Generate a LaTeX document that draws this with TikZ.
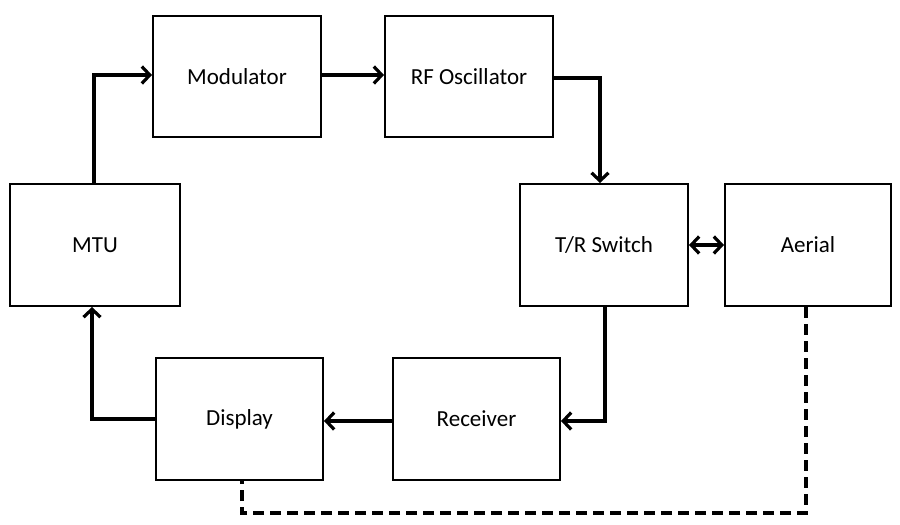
\documentclass[tikz,border=0pt]{standalone}
\usepackage{fontspec}
\setmainfont{Carlito}
\usetikzlibrary{arrows.meta}
\begin{document}
\begin{tikzpicture}[x=1pt,y=-1pt,
  conn/.style={line width=3.2pt,-{Straight Barb[length=8pt,width=17pt,line width=3.2pt]}},
  conn2/.style={line width=3.2pt,{Straight Barb[length=8pt,width=17pt,line width=3.2pt]}-{Straight Barb[length=8pt,width=17pt,line width=3.2pt]}},
  dsh/.style={line width=3.5pt,dash pattern=on 11pt off 6pt},
  bx/.style args={#1/#2}{draw,line width=2pt,inner sep=0pt,minimum width=#1,minimum height=#2,font=\fontsize{23}{26}\selectfont}]
\useasboundingbox (0,0) rectangle (900,525);
\node[bx=168pt/121pt] (mod) at (237,76.5) {Modulator};
\node[bx=168pt/121pt] (rf) at (469,76.5) {RF Oscillator};
\node[bx=168pt/122pt] (tr) at (604,245) {T/R Switch};
\node[bx=166pt/122pt] (aer) at (808,245) {Aerial};
\node[bx=170pt/122pt] (mtu) at (95,245) {MTU};
\node[bx=167pt/122pt] (disp) at (239.5,419) {Display};
\node[bx=167pt/122pt] (rec) at (476.5,419) {Receiver};
\coordinate (c1) at (94,75);
\coordinate (c2) at (600,78);
\coordinate (c3) at (605,421);
\coordinate (c4) at (92,419);
\coordinate (d1) at (806,513);
\coordinate (d2) at (242,513);
\draw[conn] (mtu.north -| c1) |- (mod.west |- c1);
\draw[conn] (mod.east |- c1) -- (rf.west |- c1);
\draw[conn] (rf.east |- c2) -| (tr.north -| c2);
\draw[conn2] (tr.east) -- (aer.west);
\draw[conn] (tr.south -| c3) |- (rec.east |- c3);
\draw[conn] (rec.west |- c3) -- (disp.east |- c3);
\draw[conn] (disp.west |- c4) -| (mtu.south -| c4);
\draw[dsh] (aer.south -| d1) -- (d1) -- (d2) -- (disp.south -| d2);
\end{tikzpicture}
\end{document}
